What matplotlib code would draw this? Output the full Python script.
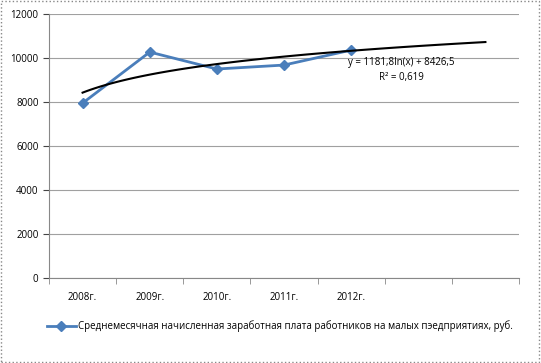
import numpy as np
import matplotlib.pyplot as plt
from matplotlib.patches import Rectangle

plt.rcParams['font.family'] = ['Open Sans', 'DejaVu Sans']

years = ['2008г.', '2009г.', '2010г.', '2011г.', '2012г.', '', '']
salary = [7950, 10270, 9500, 9680, 10360]
trend_a = 1181.8
trend_b = 8426.5
r2 = 0.619

fig = plt.figure(figsize=(5.41, 3.63), dpi=100)
ax = fig.add_axes([0.0906, 0.234, 0.8687, 0.7274])

x = np.arange(1, len(salary) + 1)
ax.plot(x, salary, color='#4a7ebb', lw=2, marker='D', ms=5,
        label='Среднемесячная начисленная заработная плата работников на малых пэедприятиях, руб.')

xt = np.linspace(1, len(years), 100)
ax.plot(xt, trend_a * np.log(xt) + trend_b, color='black', lw=1.5)

ax.set_xlim(0.5, len(years) + 0.5)
ax.set_ylim(0, 12000)
ax.set_yticks(range(0, 12001, 2000))
ax.tick_params(axis='y', length=4, labelsize=7, colors='#444444', labelcolor='black')
ax.set_xticks(range(1, len(years) + 1))
ax.set_xticklabels(years, fontsize=7)
ax.set_xticks(np.arange(0.5, len(years) + 1), minor=True)
ax.tick_params(axis='x', which='major', length=0, pad=10)
ax.tick_params(axis='x', which='minor', length=4, color='#888888')
ax.grid(axis='y', color='#a0a0a0', lw=0.8)
ax.set_axisbelow(True)
for s in ['top', 'right']:
    ax.spines[s].set_visible(False)
for s in ['left', 'bottom']:
    ax.spines[s].set_color('#888888')

ax.text(5.75, 9800, 'y = 1181,8ln(x) + 8426,5', fontsize=7, ha='center', va='center')
ax.text(5.75, 9100, 'R² = 0,619', fontsize=7, ha='center', va='center')

fig.legend(loc='lower left', bbox_to_anchor=(0.07, 0.06), frameon=False,
           fontsize=7, handlelength=3, handletextpad=0.2)

fig.patches.append(Rectangle((0.002, 0.003), 0.995, 0.994, transform=fig.transFigure,
                             fill=False, edgecolor='#888888', lw=1, ls=':'))

plt.savefig('out.png', dpi=100)
